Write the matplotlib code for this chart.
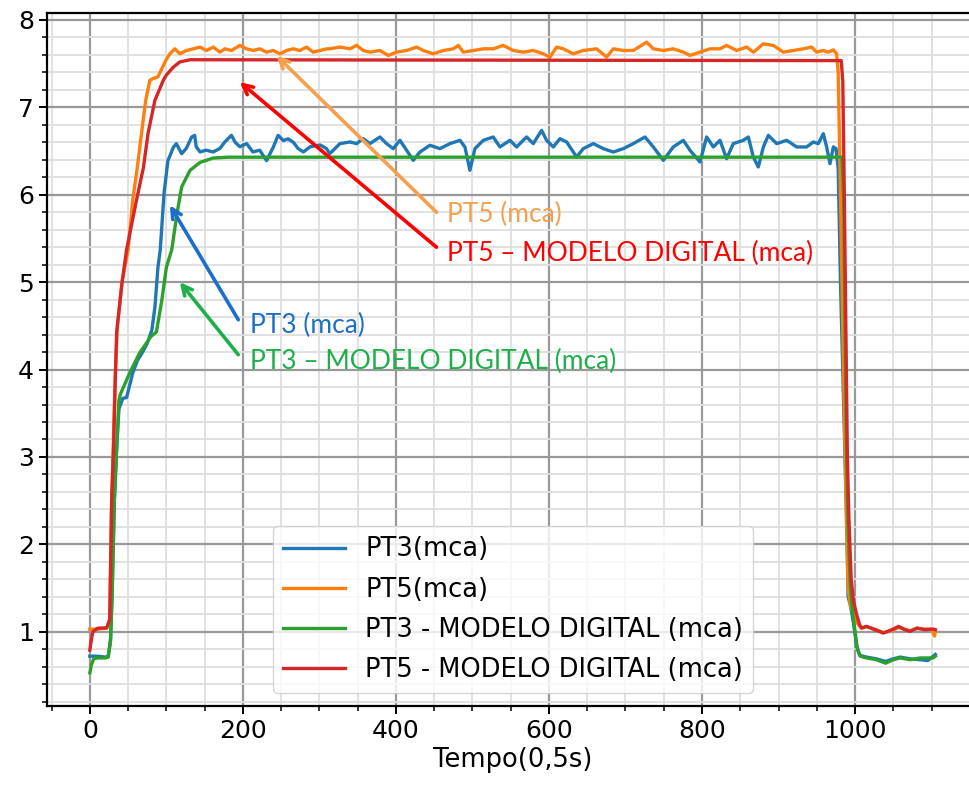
import matplotlib
matplotlib.use("Agg")
import matplotlib.pyplot as plt
from matplotlib.ticker import MultipleLocator

# PT3 measured (blue)
pt3_t = [0, 10, 20, 24, 27, 29, 32, 35, 38, 43, 48, 56, 62, 69, 75, 81, 85, 89, 92, 97,
         102, 109, 113, 120, 126, 133, 137, 139, 144, 152, 161, 170, 176, 185, 190, 196,
         205, 213, 222, 231, 240, 246, 253, 259, 266, 272, 279, 288, 301, 309,
         313.7, 326.8, 339.9, 348.6, 357.3, 366.0, 379.1, 387.8, 396.5, 405.2, 414.0,
         422.7, 431.4, 444.4, 457.5, 470.6, 483.7, 490.2, 496.7, 503.3, 514.2, 527.2,
         535.9, 549.0, 557.7, 570.8, 579.5, 590.4, 596.9, 605.7, 614.4, 623.1, 636.2,
         644.9, 658.0, 671.0, 684.1, 697.2, 710.2, 725.5, 736.4, 749.5, 762.5, 775.6,
         784.3, 797.4, 806.1, 814.8, 823.5, 832.2, 840.9, 854.0, 860.6, 867.1, 873.6,
         880.2, 886.7, 897.6, 910.7, 923.7, 936.8, 945.5, 952.0, 958.6, 962.9, 967.3,
         971.7, 975.2, 978, 981, 984, 987, 989, 991, 994, 998, 1002, 1006,
         1015, 1028, 1040, 1050, 1059, 1072, 1085, 1095, 1102, 1105]
pt3_v = [0.72, 0.72, 0.71, 0.72, 0.9, 1.4, 2.5, 3.1, 3.55, 3.67, 3.68, 3.96, 4.1, 4.2, 4.3,
         4.45, 4.71, 5.17, 5.37, 6.02, 6.39, 6.54, 6.585, 6.47, 6.53, 6.66, 6.68, 6.55,
         6.49, 6.51, 6.49, 6.53, 6.60, 6.68, 6.60, 6.55, 6.585, 6.49, 6.51, 6.39, 6.55,
         6.68, 6.62, 6.64, 6.60, 6.53, 6.49, 6.55, 6.57, 6.53,
         6.471, 6.585, 6.604, 6.585, 6.642, 6.585, 6.661, 6.585, 6.528, 6.623, 6.509,
         6.394, 6.489, 6.566, 6.528, 6.585, 6.623, 6.547, 6.280, 6.528, 6.623, 6.661,
         6.547, 6.623, 6.547, 6.661, 6.585, 6.737, 6.623, 6.547, 6.642, 6.604, 6.432,
         6.528, 6.585, 6.528, 6.489, 6.528, 6.585, 6.661, 6.547, 6.394, 6.547, 6.623,
         6.509, 6.375, 6.661, 6.547, 6.623, 6.413, 6.585, 6.623, 6.661, 6.432, 6.318,
         6.547, 6.680, 6.585, 6.623, 6.547, 6.547, 6.604, 6.585, 6.699, 6.547, 6.356,
         6.547, 6.528, 6.3, 5.0, 4.0, 3.0, 2.3, 1.4, 1.3, 1.1, 0.85, 0.73,
         0.71, 0.69, 0.66, 0.69, 0.71, 0.69, 0.68, 0.67, 0.72, 0.74]

# PT5 measured (orange)
pt5_t = [0, 10, 22, 26, 28.5, 30.5, 33, 36, 42, 50, 56, 62, 67.5, 73, 78.4, 83, 89, 95,
         100, 104.6, 111.1, 117.6, 126.4, 135.1, 143.8, 152.5, 161.3, 170.0, 176.5,
         185.2, 196.1, 204.8, 213.5, 222.2, 230.9, 239.7, 248.4, 257.1, 265.8, 274.5,
         283.2, 291.9, 300.7, 309.4,
         313.7, 326.8, 339.9, 348.6, 357.3, 366.0, 379.1, 390.0, 400.9, 414.0, 427.0,
         435.7, 448.8, 461.9, 475.0, 481.5, 488.0, 501.1, 514.2, 527.2, 540.3, 553.4,
         566.4, 579.5, 592.6, 601.3, 610.0, 618.7, 631.8, 644.9, 662.3, 675.4, 684.1,
         697.2, 710.2, 727.7, 736.4, 749.5, 762.5, 775.6, 784.3, 797.4, 810.5, 823.5,
         832.2, 845.3, 858.4, 867.1, 880.2, 893.2, 906.3, 919.4, 932.4, 943.4, 949.8,
         958.6, 965.1, 971.7, 976.0, 978, 981, 984, 987, 989, 991, 994, 998, 1003,
         1008, 1015, 1026, 1037, 1048, 1057, 1065, 1072, 1081, 1091, 1100, 1104, 1105]
pt5_v = [1.03, 1.03, 1.04, 1.14, 2.5, 3.1, 3.9, 4.5, 5.0, 5.37, 5.94, 6.31, 6.70, 7.08,
         7.31, 7.33, 7.35, 7.46, 7.55, 7.613, 7.670, 7.613, 7.651, 7.670, 7.690, 7.651,
         7.690, 7.632, 7.670, 7.651, 7.709, 7.670, 7.651, 7.670, 7.632, 7.651, 7.613,
         7.651, 7.670, 7.651, 7.690, 7.632, 7.651, 7.670,
         7.670, 7.690, 7.670, 7.709, 7.651, 7.632, 7.651, 7.594, 7.632, 7.651, 7.690,
         7.651, 7.613, 7.651, 7.670, 7.709, 7.632, 7.651, 7.670, 7.670, 7.709, 7.651,
         7.632, 7.651, 7.613, 7.575, 7.690, 7.670, 7.613, 7.651, 7.670, 7.575, 7.670,
         7.651, 7.651, 7.746, 7.670, 7.651, 7.670, 7.632, 7.594, 7.632, 7.670, 7.670,
         7.709, 7.651, 7.690, 7.632, 7.727, 7.709, 7.632, 7.651, 7.670, 7.690, 7.632,
         7.651, 7.632, 7.658, 7.613, 7.4, 6.0, 4.5, 3.0, 2.2, 1.5, 1.3, 1.2, 1.1,
         1.04, 1.06, 1.03, 0.99, 1.01, 1.05, 1.03, 1.01, 1.04, 1.03, 1.03, 0.95, 1.0]

# PT3 digital model (green)
pt3m_t = [0, 2, 5, 10, 20, 24, 27, 29, 32, 35, 38, 40, 52, 65, 80, 87, 94, 100, 107, 114,
          120, 131, 144, 161, 180, 983, 985, 987, 989, 991, 994, 997, 1000, 1003, 1007,
          1015, 1028, 1040, 1050, 1059, 1072, 1085, 1102, 1105]
pt3m_v = [0.53, 0.62, 0.69, 0.70, 0.70, 0.71, 0.9, 1.4, 2.5, 3.08, 3.65, 3.72, 3.96, 4.19,
          4.38, 4.43, 4.79, 5.17, 5.37, 5.79, 6.09, 6.28, 6.37, 6.42, 6.43, 6.43, 6.0,
          4.5, 3.0, 2.2, 1.5, 1.2, 1.0, 0.8, 0.72,
          0.70, 0.68, 0.64, 0.68, 0.70, 0.68, 0.70, 0.70, 0.72]

# PT5 digital model (red)
pt5m_t = [0, 2, 4, 10, 22, 26, 28.5, 31, 33, 35, 42, 48, 61, 70, 76, 85, 96, 100, 109,
          117.6, 131, 982, 984, 986, 988, 990, 992, 995, 998, 1002, 1006, 1009,
          1015, 1026, 1037, 1048, 1057, 1065, 1072, 1081, 1091, 1102, 1105]
pt5m_v = [0.79, 0.91, 1.0, 1.04, 1.045, 1.14, 2.5, 3.1, 3.8, 4.42, 4.99, 5.37, 5.94,
          6.31, 6.70, 7.08, 7.31, 7.37, 7.46, 7.52, 7.545, 7.535, 7.3, 6.0, 4.5, 3.0,
          2.3, 1.6, 1.35, 1.2, 1.08, 1.042,
          1.061, 1.023, 0.985, 1.023, 1.061, 1.023, 1.004, 1.042, 1.023, 1.030, 1.023]

legend_labels = ["PT3(mca)", "PT5(mca)", "PT3 - MODELO DIGITAL (mca)",
                 "PT5 - MODELO DIGITAL (mca)"]

# annotation texts, arrow tip, arrow tail, colour, text anchor
notes = ["PT5 (mca)", "PT5 \u2013 MODELO DIGITAL (mca)", "PT3 (mca)",
         "PT3 \u2013 MODELO DIGITAL (mca)"]
note_xy = [(244, 7.59), (196, 7.29), (104.6, 5.88), (117.6, 5.0)]
note_text = [(453, 5.80), (453, 5.40), (194, 4.57), (194, 4.17)]
note_colors = ["#f5a04e", "#ff0000", "#1a6fcc", "#1db04a"]
note_pos = [(467, 5.77), (467, 5.33), (209, 4.50), (209, 4.09)]

fig = plt.figure(figsize=(9.69, 7.87), dpi=100)
ax = fig.add_axes([0.0485, 0.1029, 0.9618, 0.8806])

ax.plot(pt3_t, pt3_v, color="#1f77b4", lw=2.4, label=legend_labels[0])
ax.plot(pt5_t, pt5_v, color="#ff7f0e", lw=2.4, label=legend_labels[1])
ax.plot(pt3m_t, pt3m_v, color="#2ca02c", lw=2.4, label=legend_labels[2])
ax.plot(pt5m_t, pt5m_v, color="#d62728", lw=2.4, label=legend_labels[3])

ax.set_xlim(-56, 1162)
ax.set_ylim(0.15, 8.08)
ax.xaxis.set_major_locator(MultipleLocator(200))
ax.xaxis.set_minor_locator(MultipleLocator(50))
ax.yaxis.set_major_locator(MultipleLocator(1))
ax.yaxis.set_minor_locator(MultipleLocator(0.2))
ax.grid(which="major", color="#999999", lw=1.6)
ax.grid(which="minor", color="#dedede", lw=1.3)
ax.set_axisbelow(True)
ax.tick_params(which="major", labelsize=18, length=6, width=1.4)
ax.tick_params(which="minor", length=3.5, width=1.1)
for s in ax.spines.values():
    s.set_linewidth(1.6)

ax.set_xlabel("Tempo(0,5s)", fontsize=18.5, labelpad=3)

leg = ax.legend(loc="lower center", fontsize=18.5, handlelength=2.4,
                labelspacing=0.55, framealpha=0.8)

for txt, tip, tail, col, pos in zip(notes, note_xy, note_text, note_colors, note_pos):
    ax.annotate("", xy=tip, xytext=tail,
                arrowprops=dict(arrowstyle="->,head_length=0.7,head_width=0.35",
                                color=col, lw=2.6, shrinkA=0, shrinkB=0))
    ax.text(pos[0], pos[1], txt, color=col, fontsize=19, family="Lato",
            va="center", ha="left")

fig.savefig("out.png", dpi=100)
